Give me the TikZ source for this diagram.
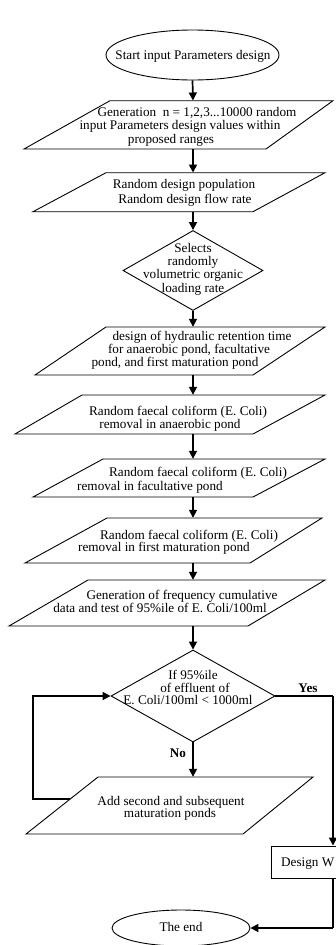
\documentclass[tikz,border=0pt]{standalone}
\usepackage{fontspec}
\setmainfont{Liberation Serif}
\usetikzlibrary{shapes.geometric,arrows.meta}
\begin{document}
\begin{tikzpicture}[x=1pt,y=-1pt,
  txt/.style={inner sep=0pt,font=\fontsize{13.2}{15}\selectfont,text height=8.5pt,text depth=0pt},
  shp/.style={draw=black,line width=0.9pt},
  anchorbox/.style={inner sep=0pt,minimum width=1pt,draw=none},
  arr/.style={line width=1.7pt,-{Triangle[length=8pt,width=8pt]}},
  conn/.style={line width=1.7pt}]
\useasboundingbox (0,0) rectangle (335,945);
\fill[white] (0,0) rectangle (335,945);

% start
\node[shp,ellipse,minimum width=173pt,minimum height=50pt,inner sep=0pt] (start) at (192.5,55) {};
\node[txt] (tstart) at (193,55) {Start input Parameters design};

% P1
\draw[shp] (110,100.7) -- (333,100.7) -- (266,149) -- (24,149) -- cycle;
\node[anchorbox,minimum height=48.3pt] (p1) at (193,124.85) {};
\node[txt] (p1a) at (197,112) {Generation\ \ n = 1,2,3...10000 random};
\node[txt] (p1b) at (180,125.5) {input Parameters design values within};
\node[txt] (p1c) at (171,139) {proposed ranges};

% P2
\draw[shp] (106,172.7) -- (325,172.7) -- (253,211.7) -- (33,211.7) -- cycle;
\node[anchorbox,minimum height=39pt] (p2) at (193,192.2) {};
\node[txt] (p2a) at (184,184) {Random design population};
\node[txt] (p2b) at (185,199) {Random design flow rate};

% D1
\node[shp,diamond,minimum width=140pt,minimum height=80pt,inner sep=0pt] (d1) at (193,270.5) {};
\node[txt] (d1a) at (193,248) {Selects};
\node[txt] (d1b) at (193,261) {randomly};
\node[txt] (d1c) at (193,274.5) {volumetric organic};
\node[txt] (d1d) at (193,288) {loading rate};

% P3
\draw[shp] (106,327) -- (325,327) -- (253,375) -- (35,375) -- cycle;
\node[anchorbox,minimum height=48pt] (p3) at (193,351) {};
\node[txt] (p3a) at (202,336) {design of hydraulic retention time};
\node[txt] (p3b) at (189,349.5) {for anaerobic pond, facultative};
\node[txt] (p3c) at (175,362.5) {pond, and first maturation pond};

% P4
\draw[shp] (82,395) -- (325,395) -- (253,434) -- (15,434) -- cycle;
\node[anchorbox,minimum height=39pt] (p4) at (193,414.5) {};
\node[txt] (p4a) at (178,411.5) {Random faecal coliform (E. Coli)};
\node[txt] (p4b) at (170,424) {removal in anaerobic pond};

% P5
\draw[shp] (103,459) -- (325,459) -- (253,497) -- (33,497) -- cycle;
\node[anchorbox,minimum height=38pt] (p5) at (193,478) {};
\node[txt] (p5a) at (198,472) {Random faecal coliform (E. Coli)};
\node[txt] (p5b) at (150,486) {removal in facultative pond};

% P6
\draw[shp] (107,518) -- (322,518) -- (250,563) -- (25,563) -- cycle;
\node[anchorbox,minimum height=45pt] (p6) at (193,540.5) {};
\node[txt] (p6a) at (189,535) {Random faecal coliform (E. Coli)};
\node[txt] (p6b) at (164,547) {removal in first maturation pond};

% P7
\draw[shp] (88,580) -- (325,580) -- (248,626) -- (9,626) -- cycle;
\node[anchorbox,minimum height=46pt] (p7) at (193,603) {};
\node[txt] (p7a) at (182,595) {Generation of frequency cumulative};
\node[txt] (p7b) at (160,608) {data and test of 95\%ile of E. Coli/100ml};

% D2
\node[shp,diamond,minimum width=164pt,minimum height=92pt,inner sep=0pt] (d2) at (193,696) {};
\node[txt] (d2a) at (193,675) {If 95\%ile};
\node[txt] (d2b) at (195,688) {of effluent of};
\node[txt] (d2c) at (188,700) {E. Coli/100ml < 1000ml};

% P8
\draw[shp] (98,777) -- (313,777) -- (243,834) -- (26,834) -- cycle;
\node[anchorbox,minimum height=57pt] (p8) at (193,805.5) {};
\node[txt] (p8a) at (171,801) {Add second and subsequent};
\node[txt] (p8b) at (170,813) {maturation ponds};

% Design box
\node[shp,rectangle,minimum width=80pt,minimum height=32pt,inner sep=0pt] (design) at (311,862) {};
\node[txt,anchor=west] (tdesign) at (281,862) {Design W};

% end
\node[shp,ellipse,minimum width=138pt,minimum height=36pt,inner sep=0pt] (end) at (181,928) {};
\node[txt] (tend) at (181,927) {The end};

% labels
\node[txt,font=\fontsize{13.2}{15}\selectfont\bfseries] (yes) at (308,688) {Yes};
\node[txt,font=\fontsize{13.2}{15}\selectfont\bfseries] (no) at (178,753) {No};

% coordinates
\coordinate (yc) at (333,696);
\coordinate (ec) at (333,928);
\coordinate (lp) at (70,799);
\coordinate (lc1) at (33,799);
\coordinate (lc2) at (33,696);

% connectors
\draw[arr] (start.south) -- (p1.north);
\draw[arr] (p1.south) -- (p2.north);
\draw[arr] (p2.south) -- (d1.north);
\draw[arr] (d1.south) -- (p3.north);
\draw[arr] (p3.south) -- (p4.north);
\draw[arr] (p4.south) -- (p5.north);
\draw[arr] (p5.south) -- (p6.north);
\draw[arr] (p6.south) -- (p7.north);
\draw[arr] (p7.south) -- (d2.north);
\draw[arr] (d2.south) -- (p8.north);
\draw[conn] (d2.east) -- (yc);
\draw[arr] (yc) -- (design.north -| yc);
\draw[conn] (design.south -| yc) -- (ec);
\draw[arr] (ec) -- (end.east);
\draw[arr] (lp) -- (lc1) -- (lc2) -- (d2.west);
\end{tikzpicture}
\end{document}
